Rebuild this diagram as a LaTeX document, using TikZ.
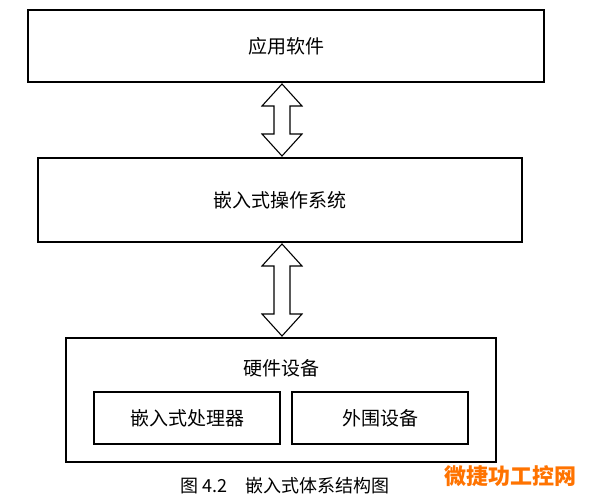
\documentclass[tikz,border=0pt]{standalone}
\usepackage{fontspec}
\setmainfont{Noto Sans CJK SC}
\begin{document}
\begin{tikzpicture}[x=1pt,y=-1pt,
  box/.style={draw=black,line width=1.2pt,inner sep=0},
  lbl/.style={font=\fontsize{19}{22}\selectfont},
  dbl/.style={draw=black,line width=1.1pt,fill=white}]
\clip (0,0) rectangle (600,500);
\fill[white] (0,0) rectangle (600,500);
\node[box,minimum width=516,minimum height=72] (app) at (286,46) {};
\node[lbl] at (app) {应用软件};
\node[box,minimum width=484,minimum height=84] (os) at (280,200) {};
\node[lbl] at (os) {嵌入式操作系统};
\node[box,minimum width=430,minimum height=124] (hw) at (281,400) {};
\node[lbl] (hwt) at (281,368) {硬件设备};
\node[box,minimum width=186,minimum height=52] (cpu) at (187,418) {};
\node[lbl] at (cpu) {嵌入式处理器};
\node[box,minimum width=176,minimum height=52] (per) at (380,418) {};
\node[lbl] at (per) {外围设备};
\newcommand{\hollowarrow}[3]{%
 \draw[dbl] (#1,#2) -- (#1+20,#2+22) -- (#1+8,#2+22) -- (#1+8,#3-22) -- (#1+20,#3-22)
   -- (#1,#3) -- (#1-20,#3-22) -- (#1-8,#3-22) -- (#1-8,#2+22) -- (#1-20,#2+22) -- cycle;}
\hollowarrow{282}{84}{156}
\hollowarrow{282}{244}{336}
\node[font=\fontsize{18}{20}\selectfont] (cap) at (285,486) {图 4.2\quad 嵌入式体系结构图};
\node[font=\bfseries\fontsize{22}{24}\selectfont,text=orange!90!red] (wm) at (510,476) {微捷功工控网};
\end{tikzpicture}
\end{document}
